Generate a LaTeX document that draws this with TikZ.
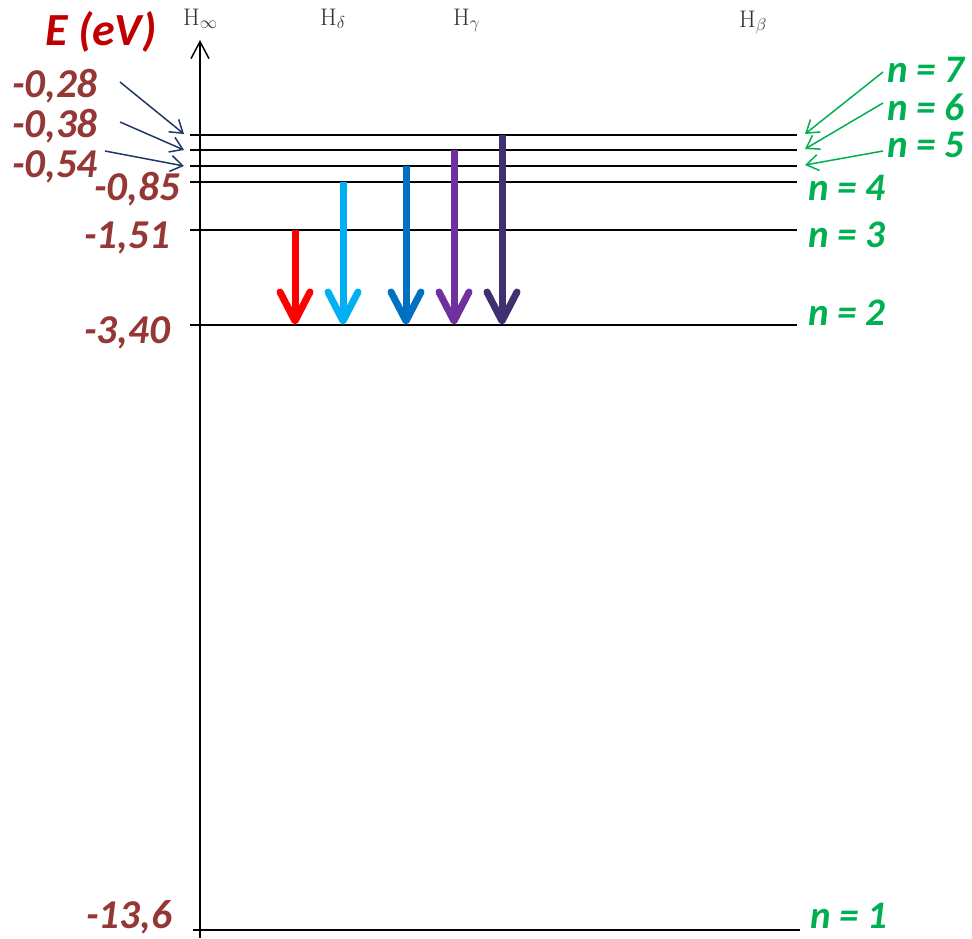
\documentclass[tikz,border=0pt]{standalone}
\usepackage{fontspec}
\newfontfamily\carl{Carlito}
\usetikzlibrary{arrows.meta}
\definecolor{ebrown}{HTML}{953735}
\definecolor{ered}{HTML}{C00000}
\definecolor{ngreen}{HTML}{00B050}
\definecolor{pnavy}{HTML}{1F3864}
\definecolor{hgray}{HTML}{333333}
\definecolor{tred}{HTML}{FF0000}
\definecolor{tcyan}{HTML}{00B0F0}
\definecolor{tblue}{HTML}{0070C0}
\definecolor{tpurple}{HTML}{7030A0}
\definecolor{tdark}{HTML}{403070}
\tikzset{
  levelline/.style={line width=2pt, black},
  elab/.style={font={\carl\bfseries\itshape\fontsize{41}{43}\selectfont}, text=ebrown, inner sep=0pt},
  nlab/.style={font={\carl\bfseries\itshape\fontsize{39}{41}\selectfont}, text=ngreen, inner sep=0pt, anchor=base west},
  hlab/.style={font={\fontsize{24}{26}\selectfont}, text=hgray, inner sep=0pt, anchor=base west},
  transshaft/.style={line width=7pt},
  transhead/.style={line width=7pt, line cap=round, line join=round},
  lpointer/.style={line width=1.5pt, pnavy, -{Straight Barb[length=12pt,width=16pt]}},
  rpointer/.style={line width=1.5pt, ngreen, -{Straight Barb[length=12pt,width=16pt]}},
}
\begin{document}
\begin{tikzpicture}[x=1pt,y=-1pt]
\useasboundingbox (0,0) rectangle (972,938);
% axis
\coordinate (axb) at (200,938);
\coordinate (axt) at (200,40);
\draw[line width=1.5pt, -{Straight Barb[length=17pt,width=18pt]}] (axb) -- (axt);
% levels
\foreach \n/\y in {7/135,6/150,5/166,4/182,3/230,2/325}{
  \coordinate (L\n w) at (190,\y);
  \coordinate (L\n e) at (797,\y);
  \draw[levelline] (L\n w) -- (L\n e);
}
\coordinate (L1w) at (193,930);
\coordinate (L1e) at (800,930);
\draw[levelline] (L1w) -- (L1e);
% header labels
\node[hlab] (Hinf) at (183,25) {$\mathrm{H}_\infty$};
\node[hlab] (Hdel) at (320,25) {$\mathrm{H}_\delta$};
\node[hlab] (Hgam) at (453,25) {$\mathrm{H}_\gamma$};
\node[hlab] (Hbet) at (739,27) {$\mathrm{H}_\beta$};
% energy title
\node[elab, text=ered, anchor=base west, font={\carl\bfseries\itshape\fontsize{46}{48}\selectfont}] (Etitle) at (45,45) {E (eV)};
% energy labels
\node[elab, anchor=base west] (e28) at (12,97) {-0,28};
\node[elab, anchor=base west] (e38) at (12,137) {-0,38};
\node[elab, anchor=base west] (e54) at (12,177) {-0,54};
\node[elab, anchor=base east] (e85) at (180,200) {-0,85};
\node[elab, anchor=base east] (e151) at (170,248) {-1,51};
\node[elab, anchor=base east] (e340) at (170,343) {-3,40};
\node[elab, anchor=base east] (e136) at (172,928) {-13,6};
% left pointers
\coordinate (p28) at (120,82);
\coordinate (p38) at (120,122);
\coordinate (p54) at (105,151);
\coordinate (t7) at (184,134);
\coordinate (t6) at (184,150);
\coordinate (t5) at (184,166);
\draw[lpointer] (p28) -- (t7);
\draw[lpointer] (p38) -- (t6);
\draw[lpointer] (p54) -- (t5);
% n labels
\node[nlab] (n7) at (887,82) {n = 7};
\node[nlab] (n6) at (887,120) {n = 6};
\node[nlab] (n5) at (887,157) {n = 5};
\node[nlab] (n4) at (808,200) {n = 4};
\node[nlab] (n3) at (808,247) {n = 3};
\node[nlab] (n2) at (808,325) {n = 2};
\node[nlab] (n1) at (810,928) {n = 1};
% right pointers
\coordinate (q7) at (883,72);
\coordinate (q6) at (883,103);
\coordinate (q5) at (883,151);
\coordinate (s7) at (805,134);
\coordinate (s6) at (805,149);
\coordinate (s5) at (805,165);
\draw[rpointer] (q7) -- (s7);
\draw[rpointer] (q6) -- (s6);
\draw[rpointer] (q5) -- (s5);
% transitions
\foreach \nm/\x/\y/\c in {a/295/230/tred, b/343/182/tcyan, c/406/166/tblue, d/454/150/tpurple, e/502/135/tdark}{
  \coordinate (\nm top) at (\x,\y);
  \coordinate (\nm tip) at (\x,321);
  \draw[transshaft, \c] (\nm top) -- ([yshift=4pt]\nm tip);
  \draw[transhead, \c] ([shift={(-15,-29)}]\nm tip) -- (\nm tip) -- ([shift={(15,-29)}]\nm tip);
}
\end{tikzpicture}
\end{document}
